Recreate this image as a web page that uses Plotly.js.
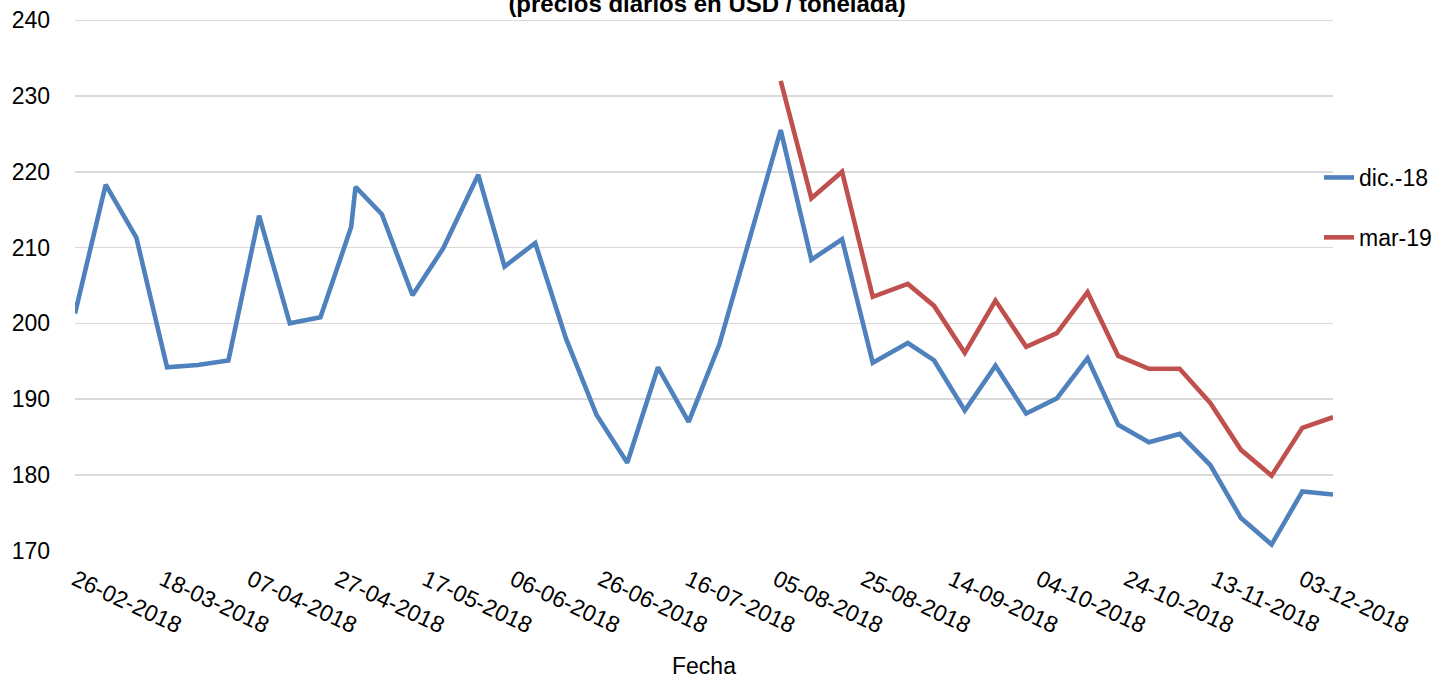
<!DOCTYPE html>
<html>
<head>
<meta charset="utf-8">
<script src="https://cdn.plot.ly/plotly-3.0.1.min.js"></script>
<style>
html,body{margin:0;padding:0;background:#fff;}
#chart{width:1446px;height:681px;}
</style>
</head>
<body>
<div id="chart"></div>
<script>
// Fechas (lunes; martes tras feriado en EE.UU.)
const fechas = ['2018-02-26','2018-03-05','2018-03-12','2018-03-19','2018-03-26','2018-04-02','2018-04-09','2018-04-16','2018-04-23','2018-04-30','2018-05-01','2018-05-07','2018-05-14','2018-05-21','2018-05-29','2018-06-04','2018-06-11','2018-06-18','2018-06-25','2018-07-02','2018-07-09','2018-07-16','2018-07-23','2018-07-30','2018-08-06','2018-08-13','2018-08-20','2018-08-27','2018-09-04','2018-09-10','2018-09-17','2018-09-24','2018-10-01','2018-10-08','2018-10-15','2018-10-22','2018-10-29','2018-11-05','2018-11-12','2018-11-19','2018-11-26','2018-12-03','2018-12-10'];
const dic18 = [201.3,218.3,211.3,194.2,194.5,195.1,214.2,200.0,200.8,212.7,218.0,214.4,203.7,209.9,219.6,207.5,210.6,198.0,187.9,181.6,194.2,187.0,197.2,211.3,225.5,208.4,211.1,194.8,197.4,195.1,188.5,194.4,188.1,190.1,195.4,186.6,184.3,185.4,181.3,174.3,170.8,177.8,177.4];
const fechasMar19 = ['2018-08-06','2018-08-13','2018-08-20','2018-08-27','2018-09-04','2018-09-10','2018-09-17','2018-09-24','2018-10-01','2018-10-08','2018-10-15','2018-10-22','2018-10-29','2018-11-05','2018-11-12','2018-11-19','2018-11-26','2018-12-03','2018-12-10'];
const mar19 = [232.0,216.5,220.0,203.5,205.2,202.3,196.1,203.0,196.9,198.7,204.1,195.7,194.0,194.0,189.5,183.3,179.9,186.2,187.6];
const nombres = ['dic.-18','mar-19'];
const yTicks = [170,180,190,200,210,220,230,240];

const FONT = 'Liberation Sans, Arial, sans-serif';

const traces = [
  {x: fechas, y: dic18, name: nombres[0], type: 'scatter', mode: 'lines',
   line: {color: '#4F81BD', width: 4.6}, legendgroup: 'a'},
  {x: fechasMar19, y: mar19, name: nombres[1], type: 'scatter', mode: 'lines',
   line: {color: '#C0504D', width: 4.6}, legendgroup: 'b'}
];

const layout = {
  width: 1446, height: 681,
  paper_bgcolor: '#ffffff', plot_bgcolor: '#ffffff',
  font: {family: FONT, size: 23, color: '#000000'},
  margin: {l: 75, r: 113, t: 17.72, b: 129.62, autoexpand: false},
  title: {text: '(precios diarios en USD / tonelada)', font: {family: FONT, size: 24, color: '#000', weight: 'bold'},
          x: 0.489, xanchor: 'center', xref: 'container', y: 0.9947, yanchor: 'middle', yref: 'container'},
  xaxis: {
    type: 'date',
    range: ['2018-02-26', '2018-12-10'],
    tick0: '2018-02-26', dtick: 20*86400000,
    tickformat: '%d-%m-%Y', tickangle: 25,
    tickfont: {family: FONT, size: 23, color: '#000'},
    showgrid: false, zeroline: false, showline: false, ticks: '',
    ticklabelstandoff: 10,
    title: {text: 'Fecha', font: {family: FONT, size: 23, color: '#000'}, standoff: 20},
    automargin: false
  },
  yaxis: {
    range: [169.95, 240.3], tickvals: yTicks, ticktext: yTicks.map(String),
    tickfont: {family: FONT, size: 23, color: '#000'},
    showgrid: true, gridcolor: '#d9d9d9', gridwidth: 1.5,
    zeroline: false, showline: false, ticks: '',
    ticklabelstandoff: 24, automargin: false
  },
  showlegend: true,
  legend: {x: 1319/1446, xref: 'container', y: 1 - 156/681, yref: 'container', xanchor: 'left', yanchor: 'top',
           font: {family: FONT, size: 23, color: '#000'}, traceorder: 'grouped', tracegroupgap: 27,
           bgcolor: 'rgba(0,0,0,0)', borderwidth: 0}
};

Plotly.newPlot('chart', traces, layout, {displayModeBar: false, staticPlot: true});
</script>
</body>
</html>
